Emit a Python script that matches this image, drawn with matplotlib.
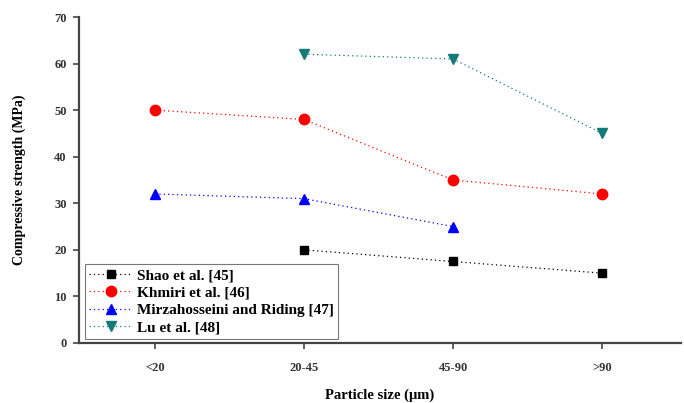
import matplotlib
matplotlib.use("Agg")
import matplotlib.pyplot as plt
import numpy as np

categories = ["<20", "20-45", "45-90", ">90"]
shao = [np.nan, 20, 17.5, 15]
khmiri = [50, 48, 35, 32]
mirza = [32, 31, 25, np.nan]
lu = [np.nan, 62, 61, 45]

plt.rcParams['font.family'] = ['Liberation Serif', 'DejaVu Serif']
plt.rcParams['font.weight'] = 'bold'

fig = plt.figure(figsize=(6.84, 4.03), dpi=100)
ax = fig.add_axes([0.1155, 0.1489, 0.8801, 0.8089])
x = np.arange(len(categories))

series = [
    (shao, "Shao et al. [45]", "black", "s", 6),
    (khmiri, "Khmiri et al. [46]", "red", "o", 7.5),
    (mirza, "Mirzahosseini and Riding [47]", "blue", "^", 7.5),
    (lu, "Lu et al. [48]", "#127a78", "v", 7.5),
]
for vals, lab, c, m, ms in series:
    v = np.array(vals, dtype=float)
    mask = ~np.isnan(v)
    ax.plot(x[mask], v[mask], linestyle=(0, (1, 2.5)), linewidth=0.9, color=c, alpha=1,
            marker=m, markersize=ms, markeredgecolor=c, markerfacecolor=c, label=lab)

ax.set_xlim(-0.51, 3.53)
ax.set_ylim(0, 70)
ax.set_xticks(x)
ax.set_xticklabels(categories)
ax.set_yticks(np.arange(0, 71, 10))
for s in ["top", "right"]:
    ax.spines[s].set_visible(False)
for s in ["left", "bottom"]:
    ax.spines[s].set_color("#444444")
    ax.spines[s].set_linewidth(1.6)
ax.tick_params(axis='both', direction='out', length=4, width=1.2, colors="#444444",
               labelsize=9, labelcolor="#333333", pad=10)
ax.tick_params(axis='y', pad=5)
ax.set_xlabel("Particle size (μm)", fontsize=10.5, fontweight='bold', labelpad=10)
ax.set_ylabel("Compressive strength (MPa)", fontsize=10, fontweight='bold', labelpad=20)

leg = ax.legend(loc="lower left", bbox_to_anchor=(0.003, 0.0), fontsize=11,
                frameon=True, fancybox=False, edgecolor="#555555",
                borderpad=0.3, labelspacing=0.25, handlelength=2.8, handletextpad=0.3,
                borderaxespad=0.25)
leg.get_frame().set_linewidth(0.8)

fig.savefig("out.png", dpi=100)
